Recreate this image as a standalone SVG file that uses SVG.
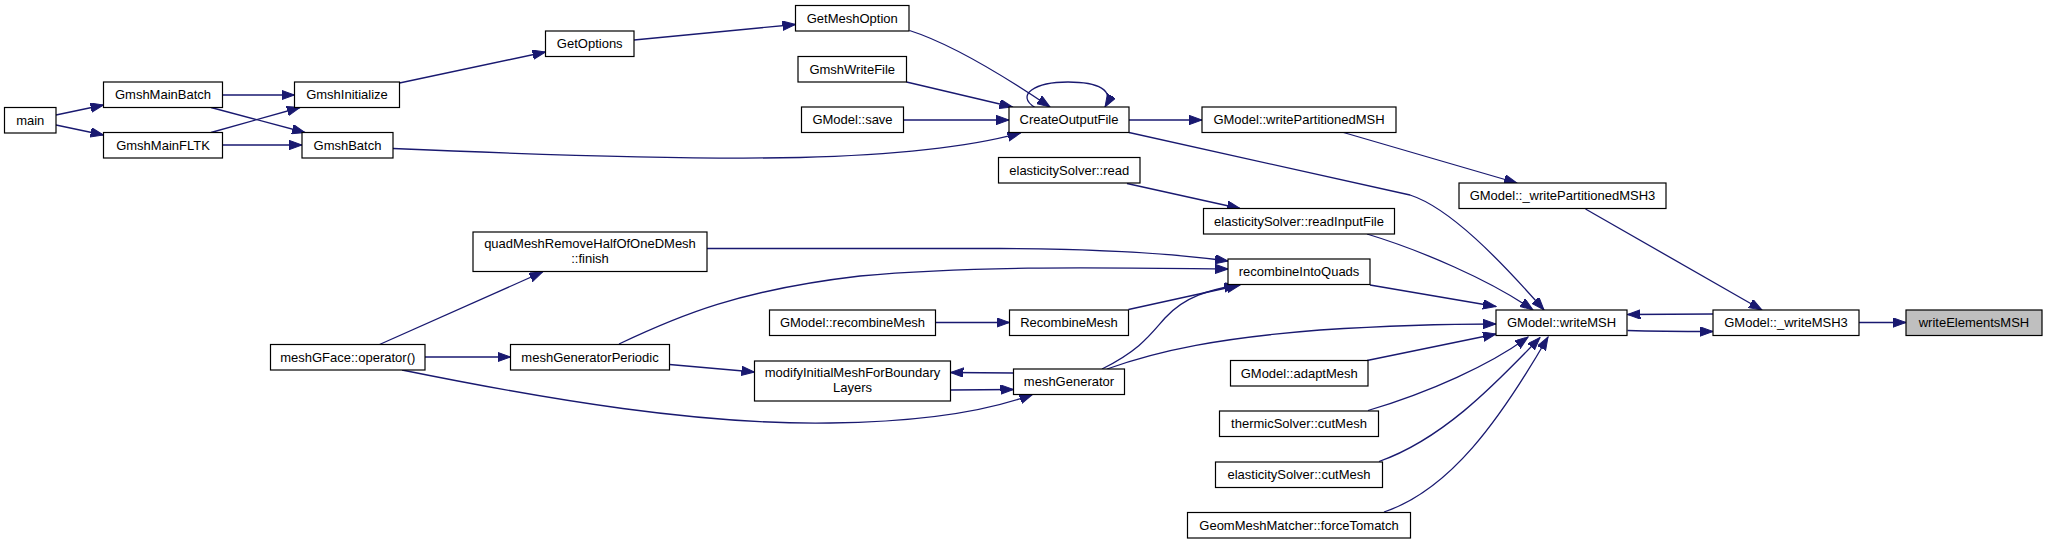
<svg xmlns="http://www.w3.org/2000/svg" width="2047" height="544" viewBox="0 0 2047 544">
<style>
.n rect{fill:#fff;stroke:#000;stroke-width:1.2}
.n.hl rect{fill:#bfbfbf}
.n text{font-family:"Liberation Sans",Arial,sans-serif;font-size:13px;fill:#000;text-anchor:middle}
#edges path{fill:none;stroke:#191970;stroke-width:1.3;marker-end:url(#ah)}
</style>
<defs>
<marker id="ah" markerUnits="userSpaceOnUse" markerWidth="14" markerHeight="10" refX="13" refY="4.7" orient="auto">
<path d="M0,0 L13,4.7 L0,9.4 z" fill="#191970" stroke="#191970" stroke-width="1"/>
</marker>
</defs>
<rect width="2047" height="544" fill="#fff"/>
<g id="edges">
<path d="M56,115 L103.5,105"/>
<path d="M56,125 L103.5,135"/>
<path d="M222.5,95 L294.5,95"/>
<path d="M211,107.5 L305,132.5"/>
<path d="M211,132.5 L300,107.5"/>
<path d="M222.5,145 L302,145"/>
<path d="M399.5,83 L545.5,52"/>
<path d="M634,40 L795.5,24.5"/>
<path d="M909.5,30.5 C955,45 1010,80 1050,107"/>
<path d="M906.5,82 L1012.5,107"/>
<path d="M903.5,120 L1009,120"/>
<path d="M393,148.5 C520,154 680,160 800,157.5 C900,155 970,147 1020.5,133"/>
<path d="M1035,107.5 C1015,95 1035,82 1068,82 C1098,82 1115,90 1105,107"/>
<path d="M1129,120 L1202,120"/>
<path d="M1129,132.5 L1410,195 C1450,208 1500,260 1544,310"/>
<path d="M1343.5,132.5 L1517,183"/>
<path d="M1585.5,209 L1762,310"/>
<path d="M1127,183.5 L1240,208.5"/>
<path d="M1367,234 C1420,250 1490,280 1533,310"/>
<path d="M707,248.5 L1000,248.5 C1100,249 1170,253 1228,261"/>
<path d="M379.5,344.5 L542.5,272"/>
<path d="M425,357 L510.5,357"/>
<path d="M402,370 C550,400 700,425 830,423 C920,422 985,412 1032.5,394.5"/>
<path d="M619,344 C680,315 740,290 860,276 C980,265 1120,268 1228,269"/>
<path d="M669.5,364.5 L754.5,372"/>
<path d="M935.5,322.5 L1009.5,322.5"/>
<path d="M1128.5,309.5 L1240,285"/>
<path d="M1102,369 C1140,350 1150,335 1165,318 C1185,296 1210,290 1237,285"/>
<path d="M1013.5,373 L950.5,372.5"/>
<path d="M950.5,390 L1013.5,389.5"/>
<path d="M1107,369 C1160,350 1220,338 1320,330 C1400,325 1450,324 1496,324"/>
<path d="M1370,285 L1496,306.5"/>
<path d="M1367,360.5 L1496,334"/>
<path d="M1368,410.5 C1430,392 1490,365 1528,337"/>
<path d="M1379,461.5 C1440,440 1490,390 1540,337.5"/>
<path d="M1384,512 C1450,490 1500,420 1548,337"/>
<path d="M1627.5,330.5 C1660,331.5 1690,331.5 1713,331.5"/>
<path d="M1713,314 L1627.5,314.5"/>
<path d="M1859,322.5 L1906,322.5"/>
</g>
<g id="main" class="n"><rect x="4.5" y="107.5" width="51.5" height="25.5"/><text x="30.25" y="124.5">main</text></g>
<g id="GmshMainBatch" class="n"><rect x="103.5" y="82" width="119" height="25.5"/><text x="163" y="99">GmshMainBatch</text></g>
<g id="GmshMainFLTK" class="n"><rect x="103.5" y="132.5" width="119" height="25.5"/><text x="163" y="149.5">GmshMainFLTK</text></g>
<g id="GmshInitialize" class="n"><rect x="294.5" y="82" width="105" height="25.5"/><text x="347" y="99">GmshInitialize</text></g>
<g id="GmshBatch" class="n"><rect x="302" y="132.5" width="91" height="25.5"/><text x="347.5" y="149.5">GmshBatch</text></g>
<g id="GetOptions" class="n"><rect x="545.5" y="31" width="88.5" height="25.5"/><text x="589.75" y="48">GetOptions</text></g>
<g id="GetMeshOption" class="n"><rect x="795.5" y="5.5" width="113.5" height="25.5"/><text x="852.25" y="22.5">GetMeshOption</text></g>
<g id="GmshWriteFile" class="n"><rect x="798" y="56.5" width="108.5" height="25.5"/><text x="852.25" y="73.5">GmshWriteFile</text></g>
<g id="GModel_save" class="n"><rect x="801.5" y="107" width="102" height="25.5"/><text x="852.5" y="124">GModel::save</text></g>
<g id="CreateOutputFile" class="n"><rect x="1009" y="107" width="120" height="25.5"/><text x="1069" y="124">CreateOutputFile</text></g>
<g id="GModel_writePartitionedMSH" class="n"><rect x="1202" y="107" width="194" height="25.5"/><text x="1299" y="124">GModel::writePartitionedMSH</text></g>
<g id="elasticitySolver_read" class="n"><rect x="998.5" y="157.5" width="141.5" height="25.5"/><text x="1069.25" y="174.5">elasticitySolver::read</text></g>
<g id="GModel__writePartitionedMSH3" class="n"><rect x="1459" y="183" width="207" height="25.5"/><text x="1562.5" y="200">GModel::_writePartitionedMSH3</text></g>
<g id="elasticitySolver_readInputFile" class="n"><rect x="1203.5" y="208.5" width="191" height="25.5"/><text x="1299" y="225.5">elasticitySolver::readInputFile</text></g>
<g id="quadMeshRemoveHalfOfOneDMesh_finish" class="n"><rect x="473" y="232" width="234" height="39.5"/><text x="590" y="248">quadMeshRemoveHalfOfOneDMesh</text><text x="590" y="263">::finish</text></g>
<g id="recombineIntoQuads" class="n"><rect x="1228" y="259" width="142" height="25.5"/><text x="1299" y="276">recombineIntoQuads</text></g>
<g id="GModel_recombineMesh" class="n"><rect x="769.5" y="310" width="166" height="25.5"/><text x="852.5" y="327">GModel::recombineMesh</text></g>
<g id="RecombineMesh" class="n"><rect x="1009.5" y="310" width="119" height="25.5"/><text x="1069" y="327">RecombineMesh</text></g>
<g id="GModel_writeMSH" class="n"><rect x="1496" y="310" width="131" height="25.5"/><text x="1561.5" y="327">GModel::writeMSH</text></g>
<g id="GModel__writeMSH3" class="n"><rect x="1713" y="310" width="146" height="25.5"/><text x="1786" y="327">GModel::_writeMSH3</text></g>
<g id="writeElementsMSH" class="n hl"><rect x="1906" y="310" width="136" height="25.5"/><text x="1974" y="327">writeElementsMSH</text></g>
<g id="meshGFace_operator" class="n"><rect x="270.5" y="344.5" width="154.5" height="25.5"/><text x="347.75" y="361.5">meshGFace::operator()</text></g>
<g id="meshGeneratorPeriodic" class="n"><rect x="510.5" y="344.5" width="159" height="25.5"/><text x="590" y="361.5">meshGeneratorPeriodic</text></g>
<g id="modifyInitialMeshForBoundaryLayers" class="n"><rect x="754.5" y="361" width="196" height="40"/><text x="852.5" y="377">modifyInitialMeshForBoundary</text><text x="852.5" y="392">Layers</text></g>
<g id="meshGenerator" class="n"><rect x="1013.5" y="369" width="111" height="25.5"/><text x="1069" y="386">meshGenerator</text></g>
<g id="GModel_adaptMesh" class="n"><rect x="1230.5" y="360.5" width="137.5" height="25.5"/><text x="1299.25" y="377.5">GModel::adaptMesh</text></g>
<g id="thermicSolver_cutMesh" class="n"><rect x="1219.5" y="411" width="159" height="25.5"/><text x="1299" y="428">thermicSolver::cutMesh</text></g>
<g id="elasticitySolver_cutMesh" class="n"><rect x="1215.5" y="462" width="167" height="25.5"/><text x="1299" y="479">elasticitySolver::cutMesh</text></g>
<g id="GeomMeshMatcher_forceTomatch" class="n"><rect x="1187.5" y="512.5" width="223" height="25.5"/><text x="1299" y="529.5">GeomMeshMatcher::forceTomatch</text></g>
</svg>
